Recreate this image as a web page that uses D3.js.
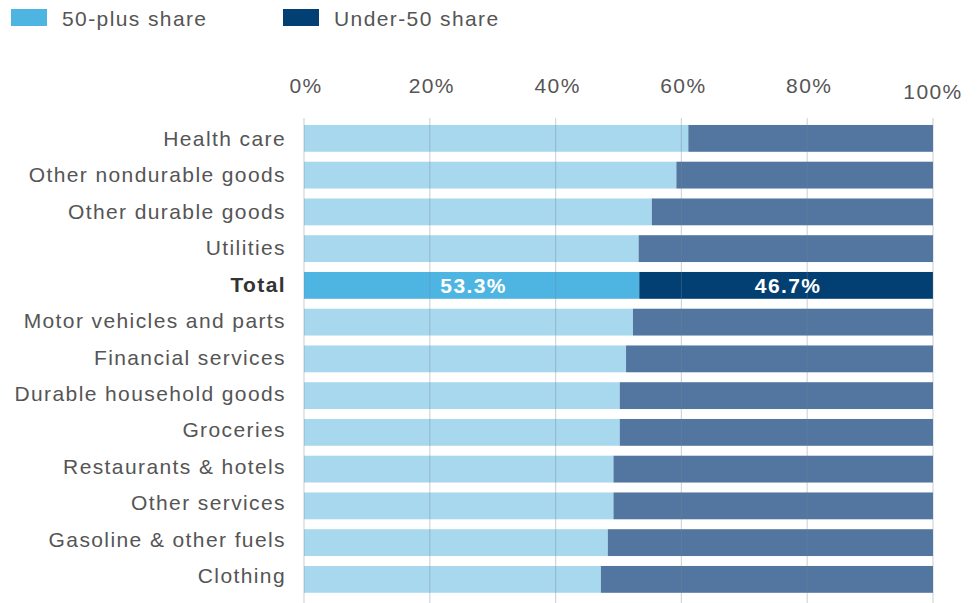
<!DOCTYPE html>
<html>
<head>
<meta charset="utf-8">
<script src="https://cdn.jsdelivr.net/npm/d3@7"></script>
<style>
  html, body { margin: 0; padding: 0; background: #fff; }
  svg { display: block; font-family: "Liberation Sans", Arial, Helvetica, sans-serif; }
</style>
</head>
<body>
<svg id="chart" width="978" height="603"></svg>
<script>
// Spending categories, top to bottom
const categories = [
  "Health care", "Other nondurable goods", "Other durable goods", "Utilities",
  "Total", "Motor vehicles and parts", "Financial services", "Durable household goods",
  "Groceries", "Restaurants & hotels", "Other services", "Gasoline & other fuels", "Clothing"
];
// Share of spending by households aged 50 and over (%)
const plusShare = [61.1, 59.2, 55.3, 53.2, 53.3, 52.3, 51.2, 50.2, 50.2, 49.2, 49.2, 48.3, 47.2];
// Share of spending by households under 50 (%)
const underShare = plusShare.map(v => +(100 - v).toFixed(1));
const ticks = [0, 20, 40, 60, 80, 100];
const tickLabels = ["0%", "20%", "40%", "60%", "80%", "100%"];
const seriesNames = ["50-plus share", "Under-50 share"];

const svg = d3.select("#chart");
const FONT = 21, LS = "1.4px";

const x = d3.scaleLinear().domain([0, 100]).range([304, 933]);
const y = d3.scaleBand().domain(categories).range([120, 597.75]).paddingInner(0.27).paddingOuter(0.135);
// Baselines for the category labels
const yLabel = d3.scalePoint().domain(categories).range([145.7, 583.3]);

const colors = {
  plus: "#a8d8ee", under: "#52769f",
  plusTotal: "#4eb5e3", underTotal: "#023f73"
};

// Legend
const legend = svg.append("g");
[[seriesNames[0], colors.plusTotal, 11], [seriesNames[1], colors.underTotal, 283]].forEach(([name, c, lx]) => {
  legend.append("rect").attr("x", lx).attr("y", 9).attr("width", 36).attr("height", 17).attr("fill", c);
  legend.append("text").attr("x", lx + 51).attr("y", 26)
    .attr("font-size", FONT).attr("letter-spacing", LS).attr("fill", "#555").text(name);
});

// Bars
const rows = svg.append("g");
categories.forEach((cat, i) => {
  const isTotal = cat === "Total";
  rows.append("rect")
    .attr("x", x(0)).attr("y", y(cat))
    .attr("width", x(plusShare[i]) - x(0)).attr("height", y.bandwidth())
    .attr("fill", isTotal ? colors.plusTotal : colors.plus);
  rows.append("rect")
    .attr("x", x(plusShare[i])).attr("y", y(cat))
    .attr("width", x(plusShare[i] + underShare[i]) - x(plusShare[i])).attr("height", y.bandwidth())
    .attr("fill", isTotal ? colors.underTotal : colors.under);
});

// Vertical gridlines drawn over the bars
const grid = svg.append("g");
ticks.forEach(t => {
  grid.append("line")
    .attr("x1", x(t)).attr("x2", x(t))
    .attr("y1", 118).attr("y2", 603)
    .attr("stroke", "#6f8399").attr("stroke-opacity", 0.33).attr("stroke-width", 1.2);
});

// Axis tick labels
const axis = svg.append("g");
ticks.forEach((t, i) => {
  axis.append("text")
    .attr("x", x(t) + (t === 100 ? 0 : 2)).attr("y", t === 100 ? 99 : 93)
    .attr("text-anchor", "middle")
    .attr("font-size", FONT).attr("letter-spacing", LS).attr("fill", "#555")
    .text(tickLabels[i]);
});

// Category labels
const labels = svg.append("g");
categories.forEach(cat => {
  const isTotal = cat === "Total";
  labels.append("text")
    .attr("x", 286).attr("y", yLabel(cat))
    .attr("text-anchor", "end")
    .attr("font-size", FONT).attr("letter-spacing", LS)
    .attr("font-weight", isTotal ? "bold" : "normal")
    .attr("fill", isTotal ? "#333" : "#555")
    .text(cat);
});

// Value labels on the Total row
const ti = categories.indexOf("Total");
const tv = svg.append("g");
[[0, plusShare[ti]], [plusShare[ti], plusShare[ti] + underShare[ti]]].forEach(([a, b], k) => {
  const v = k === 0 ? plusShare[ti] : underShare[ti];
  tv.append("text")
    .attr("x", (x(a) + x(b)) / 2 + 2).attr("y", 293)
    .attr("text-anchor", "middle")
    .attr("font-size", 21).attr("font-weight", "bold").attr("letter-spacing", "1.4px")
    .attr("fill", "#fff").text(v.toFixed(1) + "%");
});
</script>
</body>
</html>
